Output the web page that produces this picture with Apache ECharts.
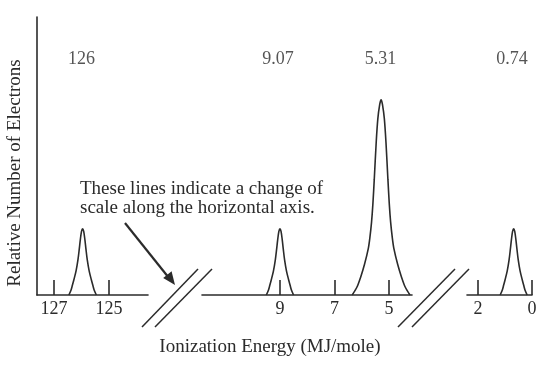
<!DOCTYPE html>
<html><head><meta charset="utf-8">
<script src="https://cdn.jsdelivr.net/npm/echarts@6/dist/echarts.min.js"></script>
<style>html,body{margin:0;padding:0;background:#fff}#c{width:541px;height:366px}</style>
</head><body><div id="c"></div>
<script>
// Peak positions / labels (MJ/mole)
var peakPositions = [126, 9.07, 5.31, 0.74];
var peakLabels = ['126', '9.07', '5.31', '0.74'];
// Tick labels per axis segment
var seg1Ticks = [127, 125];
var seg2Ticks = [9, 7, 5];
var seg3Ticks = [2, 0];
// Peak curves: energies and relative heights
var narrowHeight = [0, 0.076, 0.15, 0.227, 0.36, 0.53, 0.7, 0.83, 0.96, 1, 0.96, 0.83, 0.7, 0.53, 0.36, 0.227, 0.15, 0.076, 0];
var peak1Energy = [125.46, 125.54, 125.59, 125.64, 125.72, 125.79, 125.84, 125.875, 125.92, 125.96, 126.00, 126.045, 126.08, 126.13, 126.20, 126.28, 126.33, 126.38, 126.46];
var peak1Height = narrowHeight;
var peak2Energy = [8.50, 8.58, 8.63, 8.68, 8.76, 8.83, 8.88, 8.915, 8.96, 9.0, 9.04, 9.085, 9.12, 9.17, 9.24, 9.32, 9.37, 9.42, 9.50];
var peak2Height = narrowHeight;
var peak3Energy = [4.23, 4.41, 4.54, 4.68, 4.82, 4.88, 4.94, 4.99, 5.04, 5.11, 5.17, 5.24, 5.29, 5.34, 5.41, 5.47, 5.54, 5.59, 5.64, 5.70, 5.76, 5.90, 6.04, 6.17, 6.35];
var peak3Height = [0, 0.125, 0.27, 0.46, 0.7, 0.87, 1.1, 1.38, 1.75, 2.3, 2.66, 2.88, 2.95, 2.88, 2.66, 2.3, 1.75, 1.38, 1.1, 0.87, 0.7, 0.46, 0.27, 0.125, 0];
var peak4Energy = [0.18, 0.26, 0.31, 0.36, 0.44, 0.51, 0.56, 0.595, 0.64, 0.68, 0.72, 0.765, 0.80, 0.85, 0.92, 1.00, 1.05, 1.10, 1.18];
var peak4Height = narrowHeight;
var labelLevel = 3.56;

var FONT = 'Liberation Serif';
var INK = '#2b2b2b';
function zip(a, b) { return a.map(function (v, i) { return [v, b[i]]; }); }

var grids = [
  {left: 37, width: 111, top: 17, bottom: 71},
  {left: 202, width: 210, top: 17, bottom: 71},
  {left: 467, width: 65, top: 17, bottom: 71}
];
var ranges = [[123.58, 127.62], [4.156, 11.86], [0, 2.41]];
var ticks = [seg1Ticks, seg2Ticks, seg3Ticks];

var xAxes = grids.map(function (g, i) {
  return {
    type: 'value', gridIndex: i, inverse: true, min: ranges[i][0], max: ranges[i][1],
    axisLine: {show: true, onZero: false, lineStyle: {color: INK, width: 1.6}},
    axisTick: {show: true, inside: true, length: 15, customValues: ticks[i], lineStyle: {color: INK, width: 1.6}},
    axisLabel: {show: true, customValues: ticks[i], margin: 5, fontFamily: FONT, fontSize: 18, color: INK},
    splitLine: {show: false}
  };
});
var yAxes = grids.map(function (g, i) {
  return {
    type: 'value', gridIndex: i, min: 0, max: 4.2,
    axisLine: {show: i === 0, lineStyle: {color: INK, width: 1.6}},
    axisTick: {show: false}, axisLabel: {show: false}, splitLine: {show: false}
  };
});

var curves = [zip(peak1Energy, peak1Height), zip(peak2Energy, peak2Height), zip(peak3Energy, peak3Height), zip(peak4Energy, peak4Height)];
var peakGrid = [0, 1, 1, 2];
var series = [];
curves.forEach(function (c, k) {
  series.push({
    type: 'line', xAxisIndex: peakGrid[k], yAxisIndex: peakGrid[k], data: c,
    smooth: 0.3, symbol: 'none', silent: true,
    lineStyle: {color: INK, width: 1.6}
  });
  series.push({
    type: 'scatter', xAxisIndex: peakGrid[k], yAxisIndex: peakGrid[k],
    data: [[peakPositions[k], labelLevel]], symbolSize: 1,
    itemStyle: {color: 'transparent'}, silent: true,
    label: {show: true, position: 'inside', formatter: peakLabels[k], fontFamily: FONT, fontSize: 18, color: INK}
  });
});

function seg(x1, y1, x2, y2, w) {
  return {type: 'line', shape: {x1: x1, y1: y1, x2: x2, y2: y2}, style: {stroke: INK, lineWidth: w || 1.5}, silent: true};
}

var graphic = [
  seg(142, 327, 198, 269), seg(155, 327, 212, 269),
  seg(398, 327, 455, 269), seg(412, 327, 469, 269),
  seg(125, 223, 169, 278, 2.2),
  {type: 'polygon', shape: {points: [[175, 285], [163.2, 277.9], [171.6, 271.2]]}, style: {fill: INK}, silent: true},
  {type: 'text', left: 80, top: 180, style: {text: 'These lines indicate a change of\nscale along the horizontal axis.', font: '19px "' + FONT + '"', fill: INK, lineHeight: 19}},
  {type: 'text', x: 270, y: 347, style: {text: 'Ionization Energy (MJ/mole)', font: '19px "' + FONT + '"', fill: INK, textAlign: 'center', textVerticalAlign: 'middle'}},
  {type: 'text', x: 15, y: 173, rotation: Math.PI / 2, style: {text: 'Relative Number of Electrons', font: '19px "' + FONT + '"', fill: INK, textAlign: 'center', textVerticalAlign: 'middle'}}
];

var chart = echarts.init(document.getElementById('c'), null, {renderer: 'canvas'});
chart.setOption({
  animation: false,
  backgroundColor: '#fff',
  grid: grids,
  xAxis: xAxes,
  yAxis: yAxes,
  series: series,
  graphic: graphic
});
</script></body></html>
